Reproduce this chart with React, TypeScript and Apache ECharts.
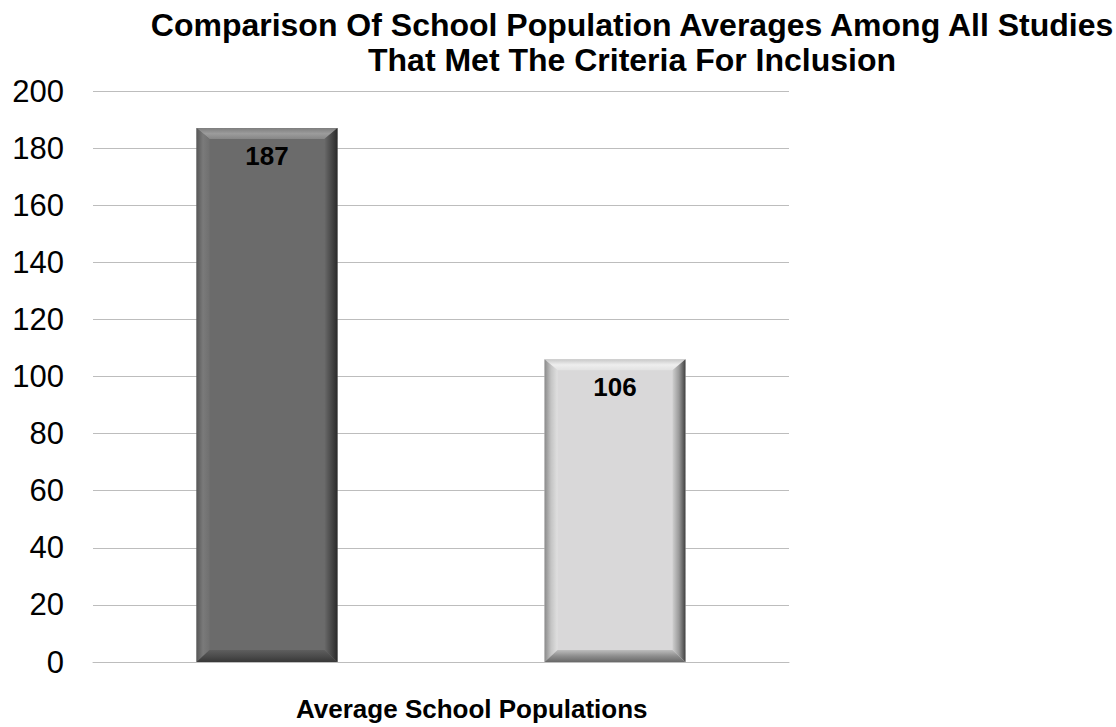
import React, { useEffect, useRef } from "react";
import * as echarts from "echarts";

// Chart data
const categories = ["Group A", "Group B"];
const averages = [187, 106];
const yTicks = { min: 0, max: 200, interval: 20 };

const titleLines = [
  "Comparison Of School Population Averages Among All Studies",
  "That Met The Criteria For Inclusion",
];
const xAxisTitle = "Average School Populations";

// Bevelled bar shading, one palette per bar
type Shade = {
  face: string;
  top: string[];
  left: string[];
  right: string[];
  bottom: string[];
};
const shades: Shade[] = [
  {
    face: "#6b6b6b",
    top: ["#7e7e7e", "#9c9c9c", "#868686"],
    left: ["#575757", "#7a7a7a", "#707070"],
    right: ["#6a6a6a", "#4a4a4a", "#2a2a2a"],
    bottom: ["#5e5e5e", "#4c4c4c", "#383838"],
  },
  {
    face: "#d9d8d9",
    top: ["#c9c9c9", "#eeeeee", "#e2e2e2"],
    left: ["#8a8a8a", "#c4c4c4", "#e0e0e0"],
    right: ["#cfcfcf", "#9a9a9a", "#404040"],
    bottom: ["#bdbdbd", "#8e8e8e", "#686868"],
  },
];

const FONT = "'Liberation Sans', Arial, Helvetica, sans-serif";

const grad = (x2: number, y2: number, stops: string[]) =>
  new echarts.graphic.LinearGradient(
    0,
    0,
    x2,
    y2,
    stops.map((c, i) => ({ offset: i / (stops.length - 1), color: c }))
  );

export default function App() {
  const ref = useRef<HTMLDivElement>(null);

  useEffect(() => {
    if (!ref.current) return;
    const chart = echarts.init(ref.current, null, { renderer: "svg" });

    const option: any = {
      animation: false,
      backgroundColor: "#ffffff",
      title: {
        text: titleLines.join("\n"),
        left: 632,
        top: 7,
        textAlign: "center",
        padding: 0,
        textStyle: {
          fontFamily: FONT,
          fontWeight: "bold",
          fontSize: 32,
          lineHeight: 35,
          color: "#000",
        },
      },
      grid: { left: 93, right: 327, top: 91, bottom: 65, containLabel: false },
      xAxis: {
        type: "category",
        data: categories,
        axisLine: { show: true, lineStyle: { color: "#bdbdbd", width: 1 } },
        axisTick: { show: false },
        axisLabel: { show: false },
        splitLine: { show: false },
      },
      yAxis: {
        type: "value",
        min: yTicks.min,
        max: yTicks.max,
        interval: yTicks.interval,
        axisLine: { show: false },
        axisTick: { show: false },
        axisLabel: {
          margin: 29,
          fontFamily: FONT,
          fontSize: 31,
          color: "#000",
        },
        splitLine: { show: true, lineStyle: { color: "#bdbdbd", width: 1 } },
      },
      graphic: [
        {
          type: "text",
          left: 473 - 177,
          top: 696,
          style: {
            text: xAxisTitle,
            font: `bold 26px ${FONT}`,
            fill: "#000",
          },
        },
      ],
      series: [
        {
          type: "custom",
          data: averages.map((v, i) => [i, v]),
          encode: { x: 0, y: 1 },
          renderItem: (params: any, api: any) => {
            const i = params.dataIndex;
            const s = shades[i % shades.length];
            const v = api.value(1);
            const topPt = api.coord([api.value(0), v]);
            const basePt = api.coord([api.value(0), 0]);
            const band = api.size([1, 0])[0];
            const w = band * 0.405;
            const l = topPt[0] - w / 2;
            const r = l + w;
            const t = topPt[1];
            const b = basePt[1];
            const h = b - t;
            const dx = Math.min(13, w / 2);
            const dt = Math.min(11, h / 2);
            const db = Math.min(12, h / 2);
            return {
              type: "group",
              children: [
                {
                  type: "rect",
                  shape: { x: l, y: t, width: w, height: h },
                  style: { fill: s.face },
                },
                {
                  type: "polygon",
                  shape: {
                    points: [
                      [l, t],
                      [r, t],
                      [r - dx, t + dt],
                      [l + dx, t + dt],
                    ],
                  },
                  style: { fill: grad(0, 1, s.top) },
                },
                {
                  type: "polygon",
                  shape: {
                    points: [
                      [l, t],
                      [l + dx, t + dt],
                      [l + dx, b - db],
                      [l, b],
                    ],
                  },
                  style: { fill: grad(1, 0, s.left) },
                },
                {
                  type: "polygon",
                  shape: {
                    points: [
                      [r, t],
                      [r, b],
                      [r - dx, b - db],
                      [r - dx, t + dt],
                    ],
                  },
                  style: { fill: grad(1, 0, s.right) },
                },
                {
                  type: "polygon",
                  shape: {
                    points: [
                      [l, b],
                      [l + dx, b - db],
                      [r - dx, b - db],
                      [r, b],
                    ],
                  },
                  style: { fill: grad(0, 1, s.bottom) },
                },
                {
                  type: "text",
                  x: (l + r) / 2,
                  y: t + 15,
                  style: {
                    text: String(v),
                    font: `bold 26px ${FONT}`,
                    fill: "#000",
                    align: "center",
                    verticalAlign: "top",
                  },
                },
              ],
            };
          },
        },
      ],
    };

    chart.setOption(option);
    return () => chart.dispose();
  }, []);

  return (
    <div
      ref={ref}
      style={{ position: "fixed", left: 0, top: 0, width: 1116, height: 727 }}
    />
  );
}
